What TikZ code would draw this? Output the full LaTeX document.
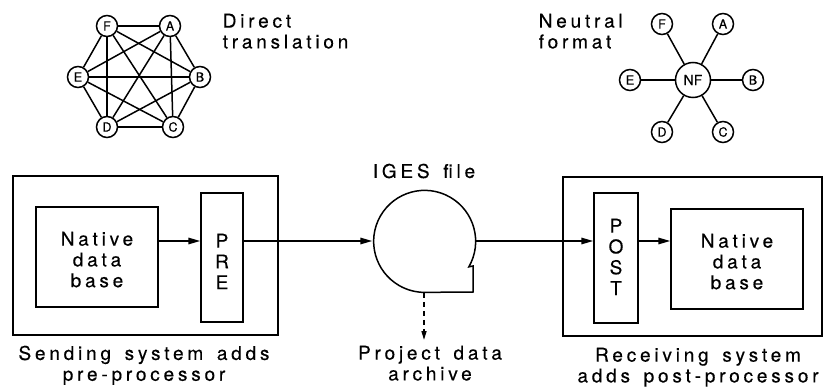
\documentclass[tikz,border=0pt]{standalone}
\usepackage{fontspec}
\setmainfont{TeX Gyre Heros}[LetterSpace=20,WordSpace=1.5,FakeBold=0.4]
\newfontfamily\circfont{TeX Gyre Heros}[FakeBold=0.3]
\usetikzlibrary{arrows.meta}
\begin{document}
\begin{tikzpicture}[x=1pt,y=-1pt, line width=1.5pt,
  vtx/.style={circle,draw,fill=white,minimum size=21pt,inner sep=0pt,font=\circfont\fontsize{12.5}{12.5}\selectfont},
  hub/.style={circle,draw,fill=white,minimum size=35pt,inner sep=0pt,font=\circfont\fontsize{14}{14}\selectfont},
  lab/.style={align=center,font=\fontsize{19}{20.8}\selectfont,inner sep=0pt},
  labl/.style={align=left,font=\fontsize{19}{20.8}\selectfont,inner sep=0pt},
  box/.style={draw,rectangle,inner sep=0pt},
  arr/.style={-{Triangle[length=12pt,width=6.5pt]}},
  dasharr/.style={dash pattern=on 5pt off 4pt,-{Triangle[length=9pt,width=5pt]}}]
\useasboundingbox (0,0) rectangle (824,387);

% Direct translation
\node[vtx] (hF) at (107,26) {F};
\node[vtx] (hA) at (170,26) {A};
\node[vtx] (hE) at (78,77) {E};
\node[vtx] (hB) at (200,77) {B};
\node[vtx] (hD) at (107,127) {D};
\node[vtx] (hC) at (173,127) {C};
\foreach \a/\b in {F/A,F/B,F/C,F/D,F/E,A/B,A/C,A/D,A/E,B/C,B/D,B/E,C/D,C/E,D/E}
  \draw (h\a) -- (h\b);
\node[labl,anchor=north west] (dt) at (222,13) {Direct\\translation};

% Neutral format
\node[hub] (nf) at (693,80) {NF};
\node[vtx] (sF) at (662,24) {F};
\node[vtx] (sA) at (723,24) {A};
\node[vtx] (sE) at (630,80) {E};
\node[vtx] (sB) at (753,80) {B};
\node[vtx] (sD) at (662,132) {D};
\node[vtx] (sC) at (723,132) {C};
\foreach \a in {F,A,E,B,D,C}
  \draw (nf) -- (s\a);
\node[labl,anchor=north west] (nft) at (538,13) {Neutral\\format};

% Sending system
\node[box,minimum width=265pt,minimum height=159pt] (outL) at (145.5,255.5) {};
\node[box,minimum width=122pt,minimum height=100pt] (natL) at (97,257) {};
\node[lab,anchor=north] (natLt) at (97,231) {Native\\data\\base};
\node[box,minimum width=42pt,minimum height=129pt] (pre) at (222,257.5) {};
\node[lab,anchor=north] (pret) at (222,233) {P\\R\\E};
\node[lab,anchor=north] (capL) at (144,345) {Sending system adds\\pre-processor};

% IGES file
\node[circle,minimum size=102pt,inner sep=0pt] (iges) at (424,241) {};
\draw (iges.-30) arc[start angle=-30,end angle=270,radius=51pt] -- (473,292) -- (473,266) -- cycle;
\node[lab,anchor=north] (igest) at (424,163) {IGES file};
\coordinate (tip) at (424,340);
\draw[dasharr] (iges.south) -- (tip);
\node[lab,anchor=north] (archt) at (430,345) {Project data\\archive};

% Receiving system
\node[box,minimum width=259pt,minimum height=159pt] (outR) at (692.5,256.5) {};
\node[box,minimum width=44pt,minimum height=130pt] (post) at (616,258) {};
\node[lab,anchor=north] (postt) at (616,218) {P\\O\\S\\T};
\node[box,minimum width=132pt,minimum height=100pt] (natR) at (737,259) {};
\node[lab,anchor=north] (natRt) at (737,233) {Native\\data\\base};
\node[lab,anchor=north] (capR) at (698,347) {Receiving system\\adds post-processor};

% connectors
\draw[arr] (natL.east |- iges.center) -- (pre.west |- iges.center);
\draw[arr] (pre.east |- iges.center) -- (iges.west);
\draw[arr] (iges.east) -- (post.west |- iges.center);
\draw[arr] (post.east |- iges.center) -- (natR.west |- iges.center);
\end{tikzpicture}
\end{document}
